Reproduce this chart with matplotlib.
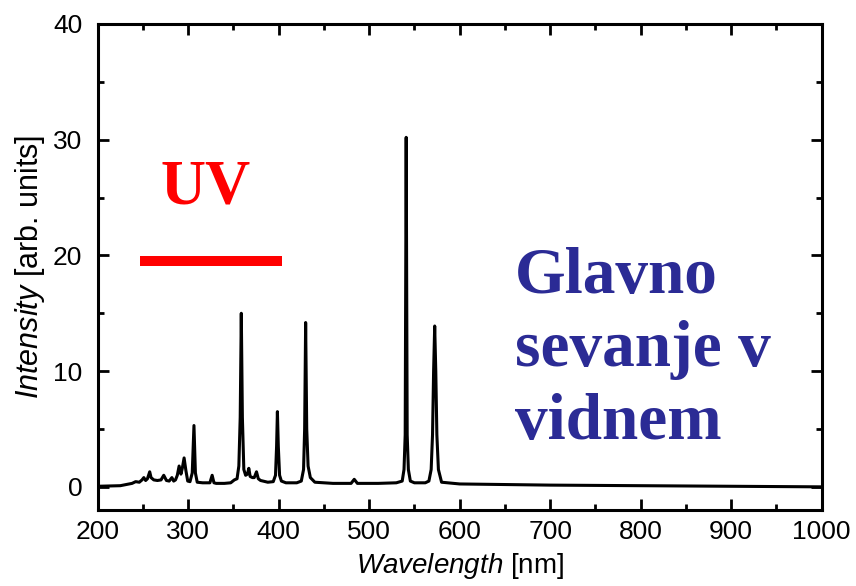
import numpy as np
import matplotlib
matplotlib.use("Agg")
import matplotlib.pyplot as plt
from matplotlib.ticker import MultipleLocator

# ---------------------------------
# Spectrum data
# ---------------------------------

wavelength = [
    200, 225, 238, 242, 246, 249, 251, 253, 255, 257.5,
    259, 262, 266, 270, 273, 276, 279, 282, 284, 286,
    288, 290, 292, 293.5, 295.5, 297.5, 299.5, 302, 304.5, 306.4,
    308, 310, 316, 324, 326.5, 328.5, 331, 340, 347, 351,
    354, 356, 357.5, 358.7, 359.9, 361.5, 363.5, 365.5, 367, 368.5,
    371, 373, 375.5, 377.5, 380, 388, 394, 396.5, 397.7, 398.6,
    399.6, 401, 403, 408, 420, 425, 427.5, 428.7, 429.8, 431,
    432.5, 435, 440, 460, 480, 483.5, 487, 510, 530, 536.5,
    538.5, 539.8, 540.9, 542, 543.3, 545.5, 550, 562, 566, 568.5,
    570, 571.2, 572.4, 573.6, 574.8, 576.5, 580, 600, 700, 800,
    900, 1000
]

intensity = [
    0.05, 0.1, 0.3, 0.45, 0.4, 0.6, 0.8, 0.55, 0.7, 1.3,
    0.8, 0.6, 0.55, 0.6, 1.0, 0.55, 0.5, 0.8, 0.5, 0.6,
    1.0, 1.8, 1.1, 1.6, 2.5, 1.4, 0.5, 0.45, 1.2, 5.3,
    1.2, 0.4, 0.35, 0.35, 1.0, 0.35, 0.3, 0.3, 0.35, 0.6,
    0.7, 1.8, 6.0, 15.0, 6.0, 1.5, 1.0, 1.1, 1.6, 0.9,
    0.8, 0.8, 1.3, 0.7, 0.55, 0.4, 0.45, 1.0, 3.5, 6.5,
    3.5, 1.0, 0.5, 0.35, 0.35, 0.5, 1.5, 5.0, 14.2, 5.0,
    1.8, 0.8, 0.4, 0.3, 0.3, 0.65, 0.3, 0.3, 0.35, 0.5,
    1.5, 4.5, 30.2, 4.5, 1.5, 0.5, 0.35, 0.35, 0.5, 1.5,
    4.5, 10.0, 13.9, 10.0, 4.5, 1.5, 0.4, 0.25, 0.15, 0.1,
    0.05, 0.0
]

# UV marker bar and labels
uv_band = [247, 404]
uv_level = 19.5
uv_label = "UV"
visible_label = "Glavno\nsevanje v\nvidnem"

# ---------------------------------
# Style
# ---------------------------------

plt.rcParams["font.family"] = ["Liberation Sans", "DejaVu Sans"]
plt.rcParams["mathtext.fontset"] = "custom"
plt.rcParams["mathtext.rm"] = "Liberation Sans"
plt.rcParams["mathtext.it"] = "Liberation Sans:italic"

fig = plt.figure(figsize=(8.56, 5.86), dpi=100)
ax = fig.add_axes([0.1141, 0.1297, 0.8458, 0.8294])

# ---------------------------------
# Plot
# ---------------------------------

ax.plot(
    wavelength,
    intensity,
    color="black",
    linewidth=2.2,
    solid_joinstyle="round"
)

ax.plot(
    uv_band,
    [uv_level, uv_level],
    color="#ff0000",
    linewidth=7.2,
    solid_capstyle="butt"
)

ax.text(
    269, 24.5, uv_label,
    color="#ff0000",
    fontsize=45,
    fontweight="bold",
    family="Liberation Serif",
    va="baseline",
    ha="left"
)

# va="baseline" on multi-line text anchors the last line
ax.text(
    661.5, 4.1, visible_label,
    color="#2b2b95",
    fontsize=47,
    fontweight="bold",
    family="Liberation Serif",
    va="baseline",
    ha="left",
    linespacing=1.29
)

# ---------------------------------
# Axes
# ---------------------------------

ax.set_xlim(200, 1000)
ax.set_ylim(-2, 40)

ax.xaxis.set_major_locator(MultipleLocator(100))
ax.xaxis.set_minor_locator(MultipleLocator(50))
ax.yaxis.set_major_locator(MultipleLocator(10))
ax.yaxis.set_minor_locator(MultipleLocator(5))

ax.tick_params(
    which="both",
    direction="in",
    top=True,
    right=True,
    width=2.0,
    labelsize=19
)
ax.tick_params(which="major", length=8)
ax.tick_params(which="minor", length=4)
ax.tick_params(axis="y", pad=11)
ax.tick_params(axis="x", pad=7)

for spine in ax.spines.values():
    spine.set_linewidth(2.2)

ax.set_xlabel(r"$\mathit{Wavelength}$ [nm]", fontsize=20, labelpad=5)
ax.set_ylabel(r"$\mathit{Intensity}$ [arb. units]", fontsize=22, labelpad=4)

plt.savefig("out.png", dpi=100)
plt.close()
